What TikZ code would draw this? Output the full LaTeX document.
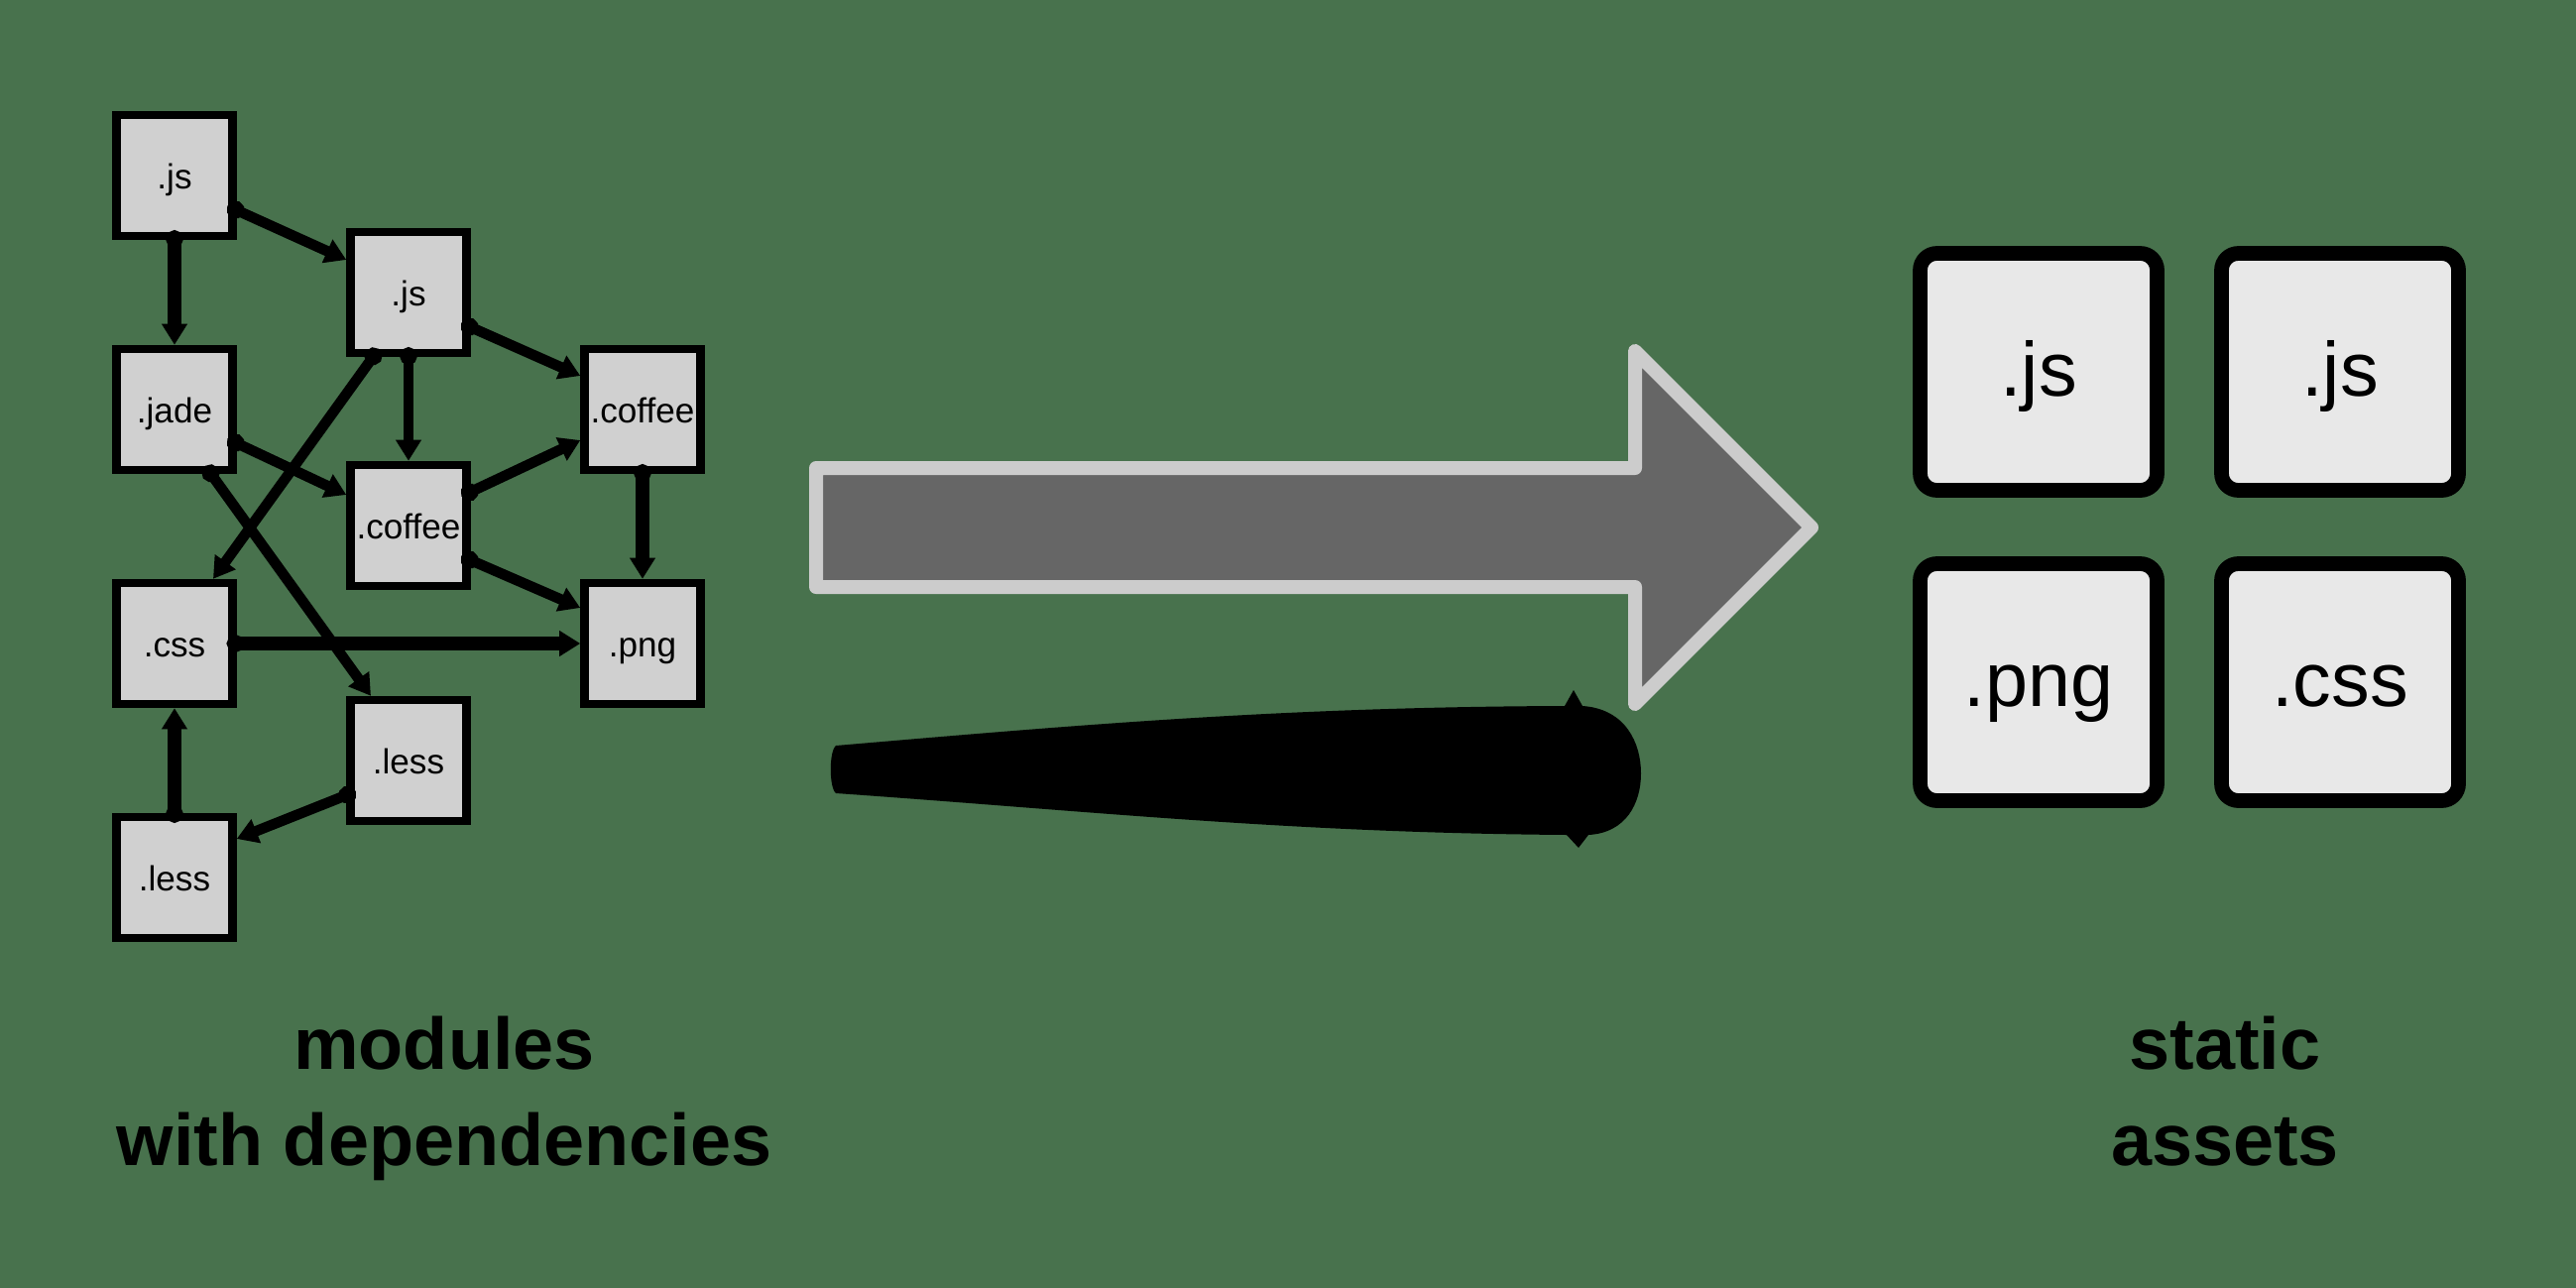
\documentclass[tikz,border=0pt]{standalone}
\usepackage{fontspec}
\setmainfont{Liberation Sans}
\usetikzlibrary{arrows.meta}
\definecolor{bggreen}{RGB}{72,114,77}
\definecolor{modfill}{RGB}{208,208,208}
\definecolor{assetfill}{RGB}{232,232,232}
\definecolor{arrowfill}{RGB}{102,102,102}
\definecolor{arrowline}{RGB}{204,204,204}

\begin{document}
\begin{tikzpicture}[
  mod/.style={draw, line width=2.4pt, fill=modfill, minimum width=1.17cm, minimum height=1.22cm, inner sep=0pt, text height=0.32cm, text depth=0.06cm, font=\fontsize{10}{12}\selectfont},
  asset/.style={draw, line width=4.2pt, rounded corners=0.17cm, fill=assetfill, minimum size=2.39cm, inner sep=0pt, text height=0.65cm, text depth=0.17cm, font=\fontsize{22}{26}\selectfont},
  dep/.style={line width=3pt, {Circle[length=5pt]}-{Triangle[length=6pt,width=7pt]}, shorten <=-1mm},
  heavy/.style={line width=4pt},
  caption/.style={align=center, anchor=base, inner sep=0pt, font=\fontsize{21}{27.6}\selectfont\bfseries}
]
\path[use as bounding box, fill=bggreen] (0,0) rectangle (25.98,-12.99);

\node[mod] (js1) at (1.76,-1.77) {.js};
\node[mod] (js2) at (4.12,-2.95) {.js};
\node[mod] (jade) at (1.76,-4.13) {.jade};
\node[mod] (coffee1) at (6.48,-4.13) {.coffee};
\node[mod] (coffee2) at (4.12,-5.30) {.coffee};
\node[mod] (css) at (1.76,-6.49) {.css};
\node[mod] (png) at (6.48,-6.49) {.png};
\node[mod] (less1) at (4.12,-7.67) {.less};
\node[mod] (less2) at (1.76,-8.85) {.less};

\draw[dep] ([yshift=-3.5mm]js1.east) -- ([yshift=3.3mm]js2.west);
\draw[dep, heavy] (js1.south) -- (jade.north);
\draw[dep] ([yshift=-3.5mm]js2.east) -- ([yshift=3.4mm]coffee1.west);
\draw[dep] (js2.south) -- (coffee2.north);
\draw[dep] ([xshift=-3.6mm]js2.south) -- ([xshift=3.9mm]css.north);
\draw[dep] ([yshift=-3.4mm]jade.east) -- ([yshift=3.1mm]coffee2.west);
\draw[dep] ([xshift=3.7mm]jade.south) -- ([xshift=-3.8mm]less1.north);
\draw[dep] ([yshift=3.4mm]coffee2.east) -- ([yshift=-3.1mm]coffee1.west);
\draw[dep] ([yshift=-3.5mm]coffee2.east) -- ([yshift=3.6mm]png.west);
\draw[dep, heavy] (coffee1.south) -- (png.north);
\draw[dep, heavy] (css.east) -- (png.west);
\draw[dep, heavy] (less2.north) -- (css.south);
\draw[dep] ([yshift=-3.5mm]less1.west) -- ([yshift=3.9mm]less2.east);

\fill[black] (8.43,-7.52) .. controls (11,-7.30) and (13,-7.13) .. (15.78,-7.12)
  -- (15.87,-6.96) -- (15.96,-7.12)
  .. controls (16.40,-7.15) and (16.55,-7.50) .. (16.55,-7.80)
  .. controls (16.55,-8.10) and (16.40,-8.40) .. (16.02,-8.42)
  -- (15.92,-8.55) -- (15.80,-8.42)
  .. controls (13,-8.40) and (11,-8.18) .. (8.43,-8.00)
  .. controls (8.36,-7.94) and (8.36,-7.58) .. cycle;
\draw[line width=0.14cm, draw=arrowline, fill=arrowfill, line join=round]
  (8.23,-4.72) -- (16.49,-4.72) -- (16.49,-3.54) -- (18.27,-5.32)
  -- (16.49,-7.10) -- (16.49,-5.92) -- (8.23,-5.92) -- cycle;

\node[asset] (out1) at (20.56,-3.75) {.js};
\node[asset] (out2) at (23.60,-3.75) {.js};
\node[asset] (out3) at (20.56,-6.88) {.png};
\node[asset] (out4) at (23.60,-6.88) {.css};

\node[caption] (modlabel) at (4.48,-11.75) {modules\\with dependencies};
\node[caption] (outlabel) at (22.44,-11.75) {static\\assets};
\end{tikzpicture}
\end{document}
